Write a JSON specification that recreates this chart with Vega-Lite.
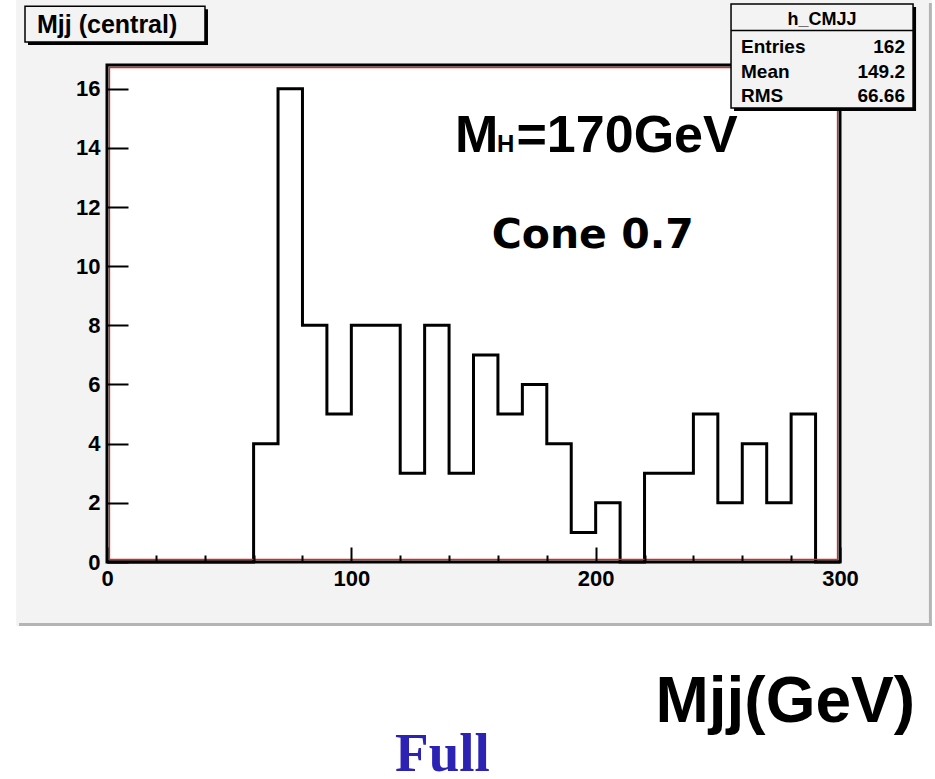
{
  "$schema": "https://vega.github.io/schema/vega-lite/v6.json",
  "width": 733,
  "height": 497,
  "padding": {"left": 107, "top": 65, "right": 95, "bottom": 217},
  "autosize": {"type": "none"},
  "background": "#f3f3f3",
  "config": {
    "view": {"stroke": null, "fill": "white"},
    "font": "Liberation Sans",
    "text": {"font": "Liberation Sans", "fontWeight": "bold", "color": "black"},
    "axis": {
      "labelFont": "Liberation Sans", "labelFontWeight": "bold", "labelFontSize": 22, "labelColor": "black",
      "labelOverlap": false, "labelSeparation": -50, "labelFlush": false, "labelBound": false,
      "domain": false, "grid": false, "tickColor": "black", "tickWidth": 2, "title": null
    }
  },
  "datasets": {
    "h_CMJJ": [
      {"mjj": 0, "events": 0},
      {"mjj": 10, "events": 0},
      {"mjj": 20, "events": 0},
      {"mjj": 30, "events": 0},
      {"mjj": 40, "events": 0},
      {"mjj": 50, "events": 0},
      {"mjj": 60, "events": 4},
      {"mjj": 70, "events": 16},
      {"mjj": 80, "events": 8},
      {"mjj": 90, "events": 5},
      {"mjj": 100, "events": 8},
      {"mjj": 110, "events": 8},
      {"mjj": 120, "events": 3},
      {"mjj": 130, "events": 8},
      {"mjj": 140, "events": 3},
      {"mjj": 150, "events": 7},
      {"mjj": 160, "events": 5},
      {"mjj": 170, "events": 6},
      {"mjj": 180, "events": 4},
      {"mjj": 190, "events": 1},
      {"mjj": 200, "events": 2},
      {"mjj": 210, "events": 0},
      {"mjj": 220, "events": 3},
      {"mjj": 230, "events": 3},
      {"mjj": 240, "events": 5},
      {"mjj": 250, "events": 2},
      {"mjj": 260, "events": 4},
      {"mjj": 270, "events": 2},
      {"mjj": 280, "events": 5},
      {"mjj": 290, "events": 0},
      {"mjj": 300, "events": 0}
    ],
    "one": [{}]
  },
  "layer": [
    {
      "data": {"name": "h_CMJJ"},
      "mark": {"type": "line", "interpolate": "step-after", "stroke": "black", "strokeWidth": 3, "clip": false},
      "encoding": {
        "x": {
          "field": "mjj", "type": "quantitative",
          "scale": {"domain": [0, 300], "nice": false, "zero": false},
          "axis": {
            "title": null, "domain": false, "grid": false, "zindex": 2,
            "values": [0, 10, 50, 20, 100, 30, 150, 40, 200, 60, 250, 70, 300, 80, 90, 110, 120, 130, 140, 160, 170, 180, 190, 210, 220, 230, 240, 260, 270, 280, 290],
            "labelExpr": "datum.value % 50 === 0 ? datum.label : ''",
            "tickColor": "black", "tickWidth": 2,
            "tickSize": {"condition": {"test": "datum.value % 50 === 0", "value": -15}, "value": -7},
            "labelFont": "Liberation Sans", "labelFontWeight": "bold", "labelFontSize": 22, "labelColor": "black",
            "labelPadding": 21, "labelFlush": false, "labelOverlap": false, "labelSeparation": -50, "labelBound": false
          }
        },
        "y": {
          "field": "events", "type": "quantitative",
          "scale": {"domain": [0, 16.8], "nice": false, "zero": false},
          "axis": {
            "title": null, "domain": false, "grid": false, "zindex": 2,
            "values": [0, 0.5, 1, 1.5, 2, 2.5, 3, 3.5, 4, 4.5, 5, 5.5, 6, 6.5, 7, 7.5, 8, 8.5, 9, 9.5, 10, 10.5, 11, 11.5, 12, 12.5, 13, 13.5, 14, 14.5, 15, 15.5, 16, 16.5],
            "labelExpr": "datum.value % 2 === 0 ? datum.label : ''",
            "tickColor": "black", "tickWidth": 2,
            "tickSize": {"condition": {"test": "datum.value % 2 === 0", "value": -21}, "value": -10},
            "labelFont": "Liberation Sans", "labelFontWeight": "bold", "labelFontSize": 22, "labelColor": "black",
            "labelPadding": 28, "labelOverlap": false, "labelSeparation": -50, "labelBound": false, "labelFlush": false
          }
        }
      }
    },
    {
      "data": {"name": "one"},
      "mark": {"type": "rect", "fill": "white", "clip": false},
      "encoding": {
        "x": {"datum": -45, "type": "quantitative"},
        "x2": {"datum": 340},
        "y": {"datum": -2.16, "type": "quantitative"},
        "y2": {"datum": -8}
      }
    },
    {
      "data": {"name": "one"},
      "mark": {"type": "rect", "fill": "white", "clip": false},
      "encoding": {
        "x": {"datum": -45, "type": "quantitative"},
        "x2": {"datum": -37.2},
        "y": {"datum": 20, "type": "quantitative"},
        "y2": {"datum": -8}
      }
    },
    {
      "data": {"name": "one"},
      "mark": {"type": "rect", "fill": "white", "clip": false},
      "encoding": {
        "x": {"datum": 337.6, "type": "quantitative"},
        "x2": {"datum": 340},
        "y": {"datum": 20, "type": "quantitative"},
        "y2": {"datum": -8}
      }
    },
    {
      "data": {"name": "one"},
      "mark": {"type": "rect", "fill": "#b4b4b4", "clip": false},
      "encoding": {
        "x": {"datum": 336.4, "type": "quantitative"},
        "x2": {"datum": 337.6},
        "y": {"datum": 18.9, "type": "quantitative"},
        "y2": {"datum": -2.16}
      }
    },
    {
      "data": {"name": "one"},
      "mark": {"type": "rect", "fill": "#b4b4b4", "clip": false},
      "encoding": {
        "x": {"datum": -36.0, "type": "quantitative"},
        "x2": {"datum": 337.6},
        "y": {"datum": -2.06, "type": "quantitative"},
        "y2": {"datum": -2.16}
      }
    },
    {
      "data": {"name": "one"},
      "mark": {"type": "rect", "fill": "black", "clip": false, "xOffset": 3, "x2Offset": 3, "yOffset": 3, "y2Offset": 3},
      "encoding": {
        "x": {"datum": -33.56, "type": "quantitative"},
        "x2": {"datum": 40.1},
        "y": {"datum": 18.79, "type": "quantitative"},
        "y2": {"datum": 17.58}
      }
    },
    {
      "data": {"name": "one"},
      "mark": {"type": "rect", "fill": "#f3f3f3", "stroke": "black", "strokeWidth": 1.5, "clip": false},
      "encoding": {
        "x": {"datum": -33.56, "type": "quantitative"},
        "x2": {"datum": 40.1},
        "y": {"datum": 18.79, "type": "quantitative"},
        "y2": {"datum": 17.58}
      }
    },
    {
      "data": {"name": "one"},
      "mark": {"type": "text", "align": "left", "baseline": "alphabetic", "fontSize": 25, "clip": false},
      "encoding": {
        "x": {"datum": -28.65, "type": "quantitative"},
        "y": {"datum": 17.88, "type": "quantitative"},
        "text": {"datum": "Mjj (central)"}
      }
    },
    {
      "data": {"name": "one"},
      "mark": {"type": "rect", "fill": null, "stroke": "#e8231a", "strokeWidth": 1.3, "clip": false, "xOffset": 2.5, "x2Offset": -2.5, "yOffset": -2.5, "y2Offset": 2.5},
      "encoding": {
        "x": {"datum": 0, "type": "quantitative"},
        "x2": {"datum": 300},
        "y": {"datum": 0, "type": "quantitative"},
        "y2": {"datum": 16.8}
      }
    },
    {
      "data": {"name": "one"},
      "mark": {"type": "rect", "fill": null, "stroke": "black", "strokeWidth": 3, "clip": false},
      "encoding": {
        "x": {"datum": 0, "type": "quantitative"},
        "x2": {"datum": 300},
        "y": {"datum": 0, "type": "quantitative"},
        "y2": {"datum": 16.8}
      }
    },
    {
      "data": {"name": "one"},
      "mark": {"type": "rect", "fill": "black", "clip": false, "xOffset": 3, "x2Offset": 3, "yOffset": 3, "y2Offset": 3},
      "encoding": {
        "x": {"datum": 255.4, "type": "quantitative"},
        "x2": {"datum": 329.9},
        "y": {"datum": 18.86, "type": "quantitative"},
        "y2": {"datum": 15.35}
      }
    },
    {
      "data": {"name": "one"},
      "mark": {"type": "rect", "fill": "#f3f3f3", "stroke": "black", "strokeWidth": 1.5, "clip": false},
      "encoding": {
        "x": {"datum": 255.4, "type": "quantitative"},
        "x2": {"datum": 329.9},
        "y": {"datum": 18.86, "type": "quantitative"},
        "y2": {"datum": 15.35}
      }
    },
    {
      "data": {"name": "one"},
      "mark": {"type": "rule", "stroke": "black", "strokeWidth": 1.5, "clip": false},
      "encoding": {
        "x": {"datum": 255.4, "type": "quantitative"},
        "x2": {"datum": 329.9},
        "y": {"datum": 17.97, "type": "quantitative"}
      }
    },
    {
      "data": {"name": "one"},
      "mark": {"type": "text", "align": "center", "baseline": "alphabetic", "fontSize": 18, "clip": false},
      "encoding": {
        "x": {"datum": 292.6, "type": "quantitative"},
        "y": {"datum": 18.15, "type": "quantitative"},
        "text": {"datum": "h_CMJJ"}
      }
    },
    {
      "data": {"name": "one"},
      "mark": {"type": "text", "align": "left", "baseline": "alphabetic", "fontSize": 19, "clip": false},
      "encoding": {
        "x": {"datum": 259.5, "type": "quantitative"},
        "y": {"datum": 17.19, "type": "quantitative"},
        "text": {"datum": "Entries"}
      }
    },
    {
      "data": {"name": "one"},
      "mark": {"type": "text", "align": "right", "baseline": "alphabetic", "fontSize": 19, "clip": false},
      "encoding": {
        "x": {"datum": 326.6, "type": "quantitative"},
        "y": {"datum": 17.19, "type": "quantitative"},
        "text": {"datum": "162"}
      }
    },
    {
      "data": {"name": "one"},
      "mark": {"type": "text", "align": "left", "baseline": "alphabetic", "fontSize": 19, "clip": false},
      "encoding": {
        "x": {"datum": 259.5, "type": "quantitative"},
        "y": {"datum": 16.37, "type": "quantitative"},
        "text": {"datum": "Mean"}
      }
    },
    {
      "data": {"name": "one"},
      "mark": {"type": "text", "align": "right", "baseline": "alphabetic", "fontSize": 19, "clip": false},
      "encoding": {
        "x": {"datum": 326.6, "type": "quantitative"},
        "y": {"datum": 16.37, "type": "quantitative"},
        "text": {"datum": "149.2"}
      }
    },
    {
      "data": {"name": "one"},
      "mark": {"type": "text", "align": "left", "baseline": "alphabetic", "fontSize": 19, "clip": false},
      "encoding": {
        "x": {"datum": 259.5, "type": "quantitative"},
        "y": {"datum": 15.56, "type": "quantitative"},
        "text": {"datum": "RMS"}
      }
    },
    {
      "data": {"name": "one"},
      "mark": {"type": "text", "align": "right", "baseline": "alphabetic", "fontSize": 19, "clip": false},
      "encoding": {
        "x": {"datum": 326.6, "type": "quantitative"},
        "y": {"datum": 15.56, "type": "quantitative"},
        "text": {"datum": "66.66"}
      }
    },
    {
      "data": {"name": "one"},
      "mark": {"type": "text", "align": "left", "baseline": "alphabetic", "fontSize": 52, "clip": false},
      "encoding": {
        "x": {"datum": 142.4, "type": "quantitative"},
        "y": {"datum": 13.86, "type": "quantitative"},
        "text": {"datum": "M"}
      }
    },
    {
      "data": {"name": "one"},
      "mark": {"type": "text", "align": "left", "baseline": "alphabetic", "fontSize": 24, "clip": false},
      "encoding": {
        "x": {"datum": 159.6, "type": "quantitative"},
        "y": {"datum": 13.86, "type": "quantitative"},
        "text": {"datum": "H"}
      }
    },
    {
      "data": {"name": "one"},
      "mark": {"type": "text", "align": "left", "baseline": "alphabetic", "fontSize": 52, "clip": false},
      "encoding": {
        "x": {"datum": 167.6, "type": "quantitative"},
        "y": {"datum": 13.86, "type": "quantitative"},
        "text": {"datum": "=170GeV"}
      }
    },
    {
      "data": {"name": "one"},
      "mark": {"type": "text", "align": "center", "baseline": "alphabetic", "fontSize": 41, "font": "DejaVu Sans", "clip": false},
      "encoding": {
        "x": {"datum": 198.8, "type": "quantitative"},
        "y": {"datum": 10.61, "type": "quantitative"},
        "text": {"datum": "Cone 0.7"}
      }
    },
    {
      "data": {"name": "one"},
      "mark": {"type": "text", "align": "right", "baseline": "alphabetic", "fontSize": 64, "clip": false},
      "encoding": {
        "x": {"datum": 330.7, "type": "quantitative"},
        "y": {"datum": -5.41, "type": "quantitative"},
        "text": {"datum": "Mjj(GeV)"}
      }
    },
    {
      "data": {"name": "one"},
      "mark": {"type": "text", "align": "left", "baseline": "alphabetic", "fontSize": 55, "font": "Liberation Serif", "color": "#2c22b4", "clip": false},
      "encoding": {
        "x": {"datum": 117.9, "type": "quantitative"},
        "y": {"datum": -7.07, "type": "quantitative"},
        "text": {"datum": "Full"}
      }
    }
  ]
}
